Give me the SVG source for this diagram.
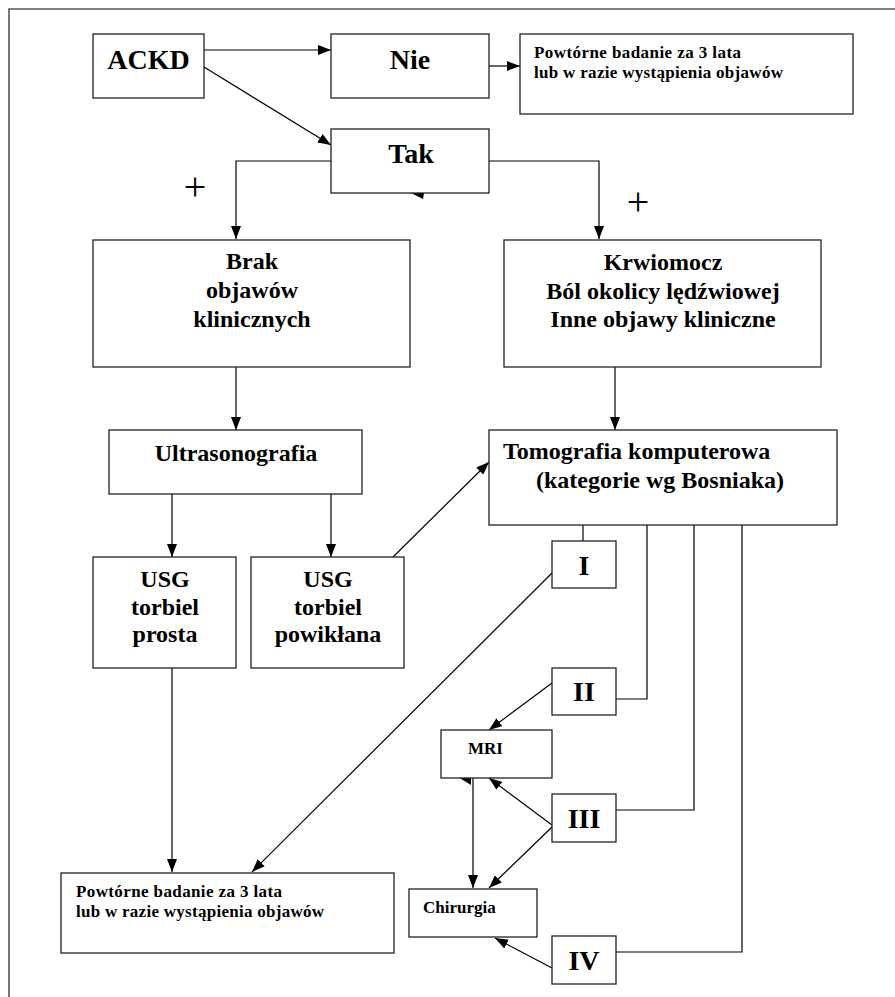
<svg xmlns="http://www.w3.org/2000/svg" width="895" height="997" viewBox="0 0 895 997">
<style>
.bx{fill:#fff;stroke:#222;stroke-width:1.3}
.t{font-family:"Liberation Serif","Times New Roman",serif;font-weight:bold;fill:#000}
.big{font-size:28px}
.mid{font-size:24px}
.sm{font-size:17px}
.xs{font-size:17px}
.c{text-anchor:middle}
.ln{fill:none;stroke:#000;stroke-width:1.2}
.pl{font-family:"Liberation Serif","Times New Roman",serif;font-size:40px;fill:#000;text-anchor:middle}
</style>
<defs>
<marker id="ah" viewBox="0 0 13 10" refX="13" refY="5" markerWidth="13" markerHeight="10" markerUnits="userSpaceOnUse" orient="auto">
<path d="M0,0 L13,5 L0,10 Z" fill="#000"/>
</marker>
</defs>
<rect width="895" height="997" fill="#fff"/>
<path d="M9,997 V9 H895" fill="none" stroke="#555" stroke-width="1.6"/>

<g id="connectors">
<line class="ln" x1="204" y1="50" x2="331" y2="50" marker-end="url(#ah)"/>
<line class="ln" x1="204" y1="67" x2="331" y2="145" marker-end="url(#ah)"/>
<line class="ln" x1="489" y1="66" x2="520" y2="66" marker-end="url(#ah)"/>
<polyline class="ln" points="331,161 236,161 236,239" marker-end="url(#ah)"/>
<polyline class="ln" points="489,161 599,161 599,239" marker-end="url(#ah)"/>
<polygon points="411,193 424,193 423,199" fill="#000"/>
<line class="ln" x1="236" y1="367" x2="236" y2="430" marker-end="url(#ah)"/>
<line class="ln" x1="615" y1="367" x2="615" y2="430" marker-end="url(#ah)"/>
<line class="ln" x1="172" y1="494" x2="172" y2="557" marker-end="url(#ah)"/>
<line class="ln" x1="331" y1="494" x2="331" y2="557" marker-end="url(#ah)"/>
<line class="ln" x1="393" y1="557" x2="489" y2="462" marker-end="url(#ah)"/>
<line class="ln" x1="583" y1="525" x2="583" y2="541"/>
<polyline class="ln" points="647,525 647,699 616,699"/>
<polyline class="ln" points="694,525 694,810 616,810"/>
<polyline class="ln" points="742,525 742,952 616,952"/>
<line class="ln" x1="552" y1="573" x2="252" y2="872" marker-end="url(#ah)"/>
<line class="ln" x1="172" y1="668" x2="172" y2="872" marker-end="url(#ah)"/>
<line class="ln" x1="552" y1="683" x2="489" y2="730" marker-end="url(#ah)"/>
<line class="ln" x1="552" y1="825" x2="489" y2="778" marker-end="url(#ah)"/>
<line class="ln" x1="552" y1="827" x2="489" y2="888" marker-end="url(#ah)"/>
<line class="ln" x1="552" y1="968" x2="495" y2="938" marker-end="url(#ah)"/>
<line class="ln" x1="473" y1="778" x2="473" y2="888" marker-end="url(#ah)"/>
<polygon points="458,777 471,771 471,785" fill="#000"/>
</g>

<text class="pl" x="195" y="200">+</text>
<text class="pl" x="638" y="215">+</text>

<g id="ackd">
<rect class="bx" x="93" y="34" width="111" height="64"/>
<text class="t big c" x="148.5" y="69">ACKD</text>
</g>
<g id="nie">
<rect class="bx" x="331" y="34" width="158" height="64"/>
<text class="t big c" x="410" y="69">Nie</text>
</g>
<g id="powt-top">
<rect class="bx" x="520" y="34" width="333" height="80"/>
<text class="t sm" x="534" y="58" textLength="207" lengthAdjust="spacing">Powtórne badanie za 3 lata</text>
<text class="t sm" x="534" y="78" textLength="249" lengthAdjust="spacing">lub w razie wystąpienia objawów</text>
</g>
<g id="tak">
<rect class="bx" x="331" y="129" width="158" height="64"/>
<text class="t big c" x="411" y="163">Tak</text>
</g>
<g id="brak">
<rect class="bx" x="93" y="240" width="317" height="127"/>
<text class="t mid c" x="252" y="269">Brak</text>
<text class="t mid c" x="252" y="298">objawów</text>
<text class="t mid c" x="252" y="327">klinicznych</text>
</g>
<g id="krwiomocz">
<rect class="bx" x="504" y="240" width="317" height="127"/>
<text class="t mid c" x="663" y="270">Krwiomocz</text>
<text class="t mid c" x="663" y="299">Ból okolicy lędźwiowej</text>
<text class="t mid c" x="663" y="327">Inne objawy kliniczne</text>
</g>
<g id="usg">
<rect class="bx" x="109" y="430" width="253" height="64"/>
<text class="t mid c" x="236" y="461">Ultrasonografia</text>
</g>
<g id="tk">
<rect class="bx" x="489" y="430" width="348" height="95"/>
<text class="t mid" x="503" y="459">Tomografia komputerowa</text>
<text class="t mid" x="536" y="488">(kategorie wg Bosniaka)</text>
</g>
<g id="usg-prosta">
<rect class="bx" x="93" y="557" width="143" height="111"/>
<text class="t mid c" x="165" y="587">USG</text>
<text class="t mid c" x="165" y="615">torbiel</text>
<text class="t mid c" x="165" y="642">prosta</text>
</g>
<g id="usg-powiklana">
<rect class="bx" x="251" y="557" width="153" height="111"/>
<text class="t mid c" x="328" y="587">USG</text>
<text class="t mid c" x="328" y="615">torbiel</text>
<text class="t mid c" x="328" y="642">powikłana</text>
</g>
<g id="cat-i">
<rect class="bx" x="552" y="541" width="64" height="47"/>
<text class="t big c" x="584" y="575">I</text>
</g>
<g id="cat-ii">
<rect class="bx" x="552" y="668" width="64" height="47"/>
<text class="t big c" x="584" y="701">II</text>
</g>
<g id="mri">
<rect class="bx" x="441" y="730" width="111" height="48"/>
<text class="t xs" x="468" y="754">MRI</text>
</g>
<g id="cat-iii">
<rect class="bx" x="552" y="794" width="64" height="48"/>
<text class="t big c" x="584" y="828">III</text>
</g>
<g id="chirurgia">
<rect class="bx" x="409" y="889" width="128" height="48"/>
<text class="t xs" x="423" y="913">Chirurgia</text>
</g>
<g id="cat-iv">
<rect class="bx" x="552" y="936" width="64" height="48"/>
<text class="t big c" x="584" y="970">IV</text>
</g>
<g id="powt-bottom">
<rect class="bx" x="61" y="873" width="333" height="80"/>
<text class="t sm" x="76" y="897" textLength="206" lengthAdjust="spacing">Powtórne badanie za 3 lata</text>
<text class="t sm" x="76" y="917" textLength="248" lengthAdjust="spacing">lub w razie wystąpienia objawów</text>
</g>
</svg>
